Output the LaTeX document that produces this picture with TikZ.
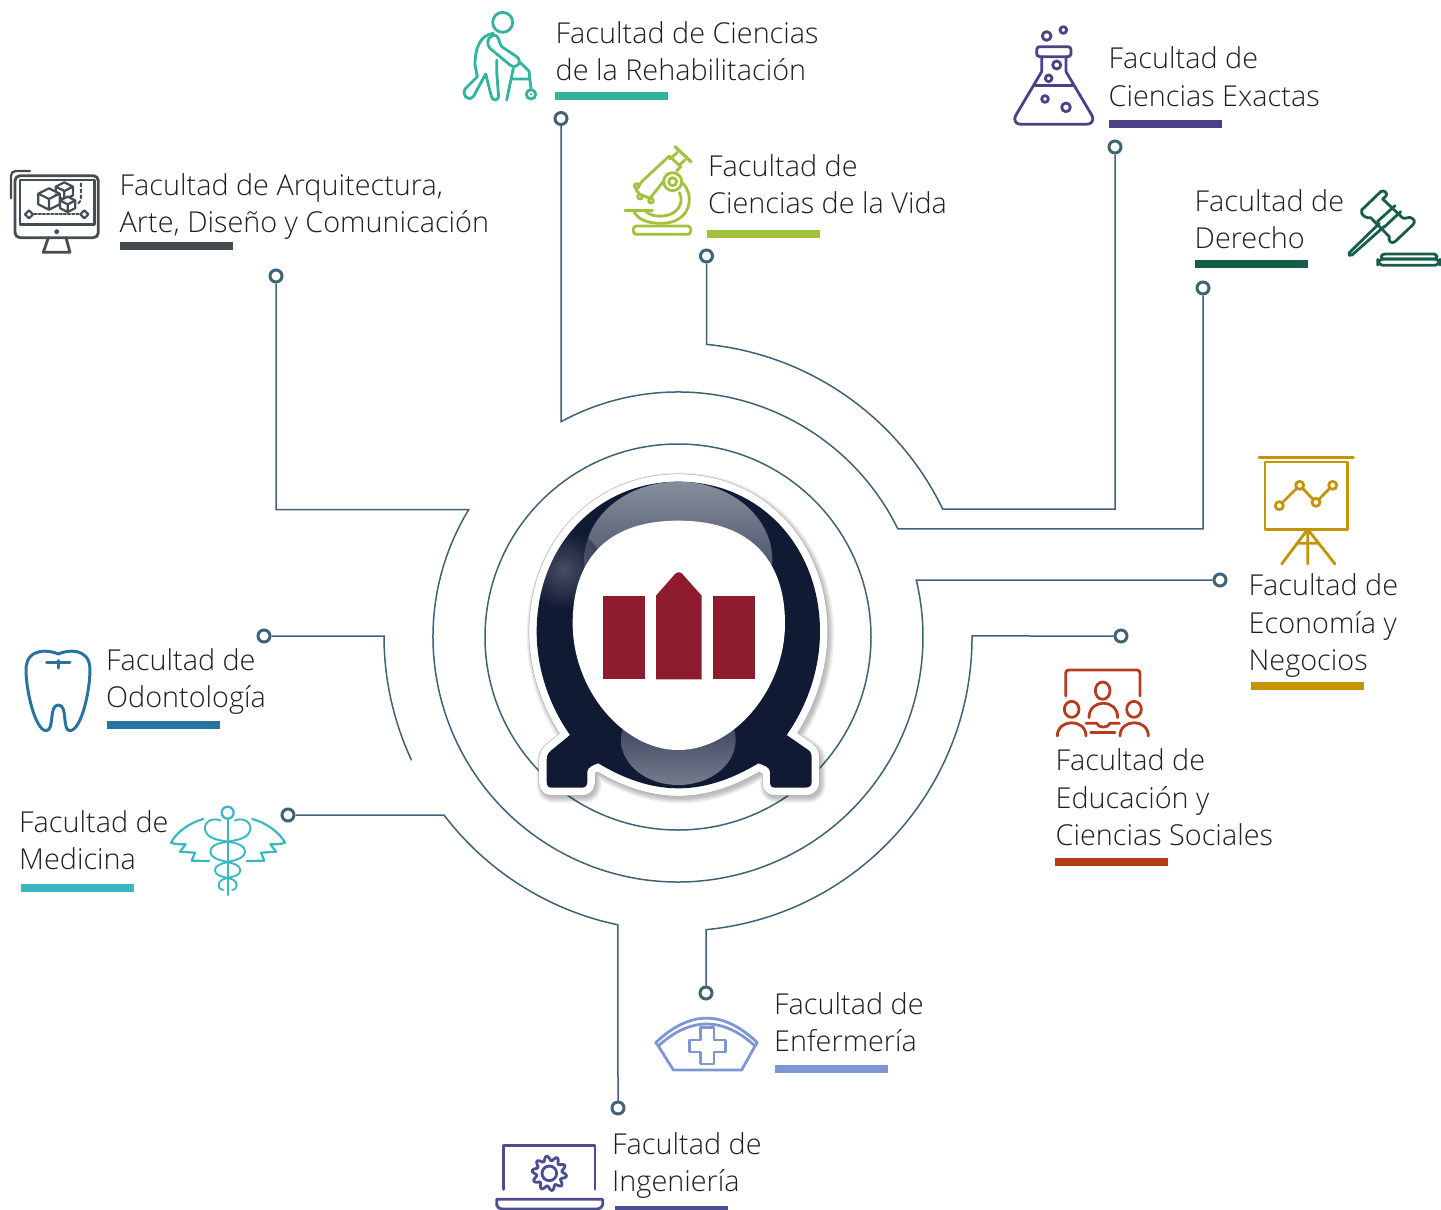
\documentclass[tikz,border=0pt]{standalone}
\usepackage{fontspec}
\setmainfont{Open Sans}[UprightFont=* Light]
\usetikzlibrary{calc}
\definecolor{linec}{HTML}{3F6274}
\definecolor{navy}{HTML}{111A33}
\definecolor{wine}{HTML}{8E1B2E}
\definecolor{creh}{HTML}{31B39C}
\definecolor{carq}{HTML}{454C52}
\definecolor{cvid}{HTML}{A2C13D}
\definecolor{cexa}{HTML}{4C4088}
\definecolor{cder}{HTML}{165D4A}
\definecolor{ceco}{HTML}{C59406}
\definecolor{cedu}{HTML}{B53C1D}
\definecolor{codo}{HTML}{27749F}
\definecolor{cmed}{HTML}{38B9C1}
\definecolor{cenf}{HTML}{7C97D2}
\definecolor{cing}{HTML}{4B4E8F}
\definecolor{hla}{HTML}{868D9C}
\definecolor{hlb}{HTML}{1E2A45}
\definecolor{hlc}{HTML}{767D8E}
\tikzset{
  conn/.style={draw=linec,line width=1.5pt,line join=miter},
  dotn/.style={circle,draw=linec,fill=white,line width=3pt,inner sep=0pt,minimum size=12pt},
  lab/.style={anchor=base west,align=left,inner sep=0pt,text=black!88,font=\fontsize{28.8}{37.5}\selectfont},
  ico/.style={line width=2.8pt,line cap=round,line join=round},
  zoomed/.style={x=0.33333pt,y=-0.33333pt}
}
\newcommand\cubeic[3]{%
  \draw[fill=white] ({#1-#3},{#2-#3*.5}) -- (#1,{#2-#3}) -- ({#1+#3},{#2-#3*.5}) -- ({#1+#3},{#2+#3*.5}) -- (#1,{#2+#3}) -- ({#1-#3},{#2+#3*.5}) -- cycle
    ({#1-#3},{#2-#3*.5}) -- (#1,#2) -- ({#1+#3},{#2-#3*.5}) (#1,#2) -- (#1,{#2+#3});}
\def\logopath{(535,95) .. controls (780,95) and (960,290) .. (960,545) .. controls (960,660) and (920,770) .. (860,855) -- (925,900) .. controls (935,908) and (935,915) .. (935,930) -- (935,995) .. controls (935,1008) and (928,1013) .. (915,1013) -- (825,1013) .. controls (815,1013) and (810,1008) .. (810,995) -- (810,965) .. controls (810,952) and (790,945) .. (775,940) .. controls (700,985) and (620,1015) .. (535,1015) .. controls (450,1015) and (370,985) .. (295,940) .. controls (280,945) and (262,952) .. (262,965) -- (262,995) .. controls (262,1008) and (255,1013) .. (245,1013) -- (155,1013) .. controls (145,1013) and (140,1008) .. (140,995) -- (140,930) .. controls (140,915) and (145,908) .. (155,900) -- (210,855) .. controls (150,770) and (110,660) .. (110,545) .. controls (110,290) and (290,95) .. (535,95) -- cycle}
\begin{document}
\begin{tikzpicture}[x=1pt,y=-1pt]
\useasboundingbox (0,0) rectangle (1441,1210);
\coordinate (c) at (678,637);
% dots
\node[dotn] (dreh) at (561,118.5) {};
\node[dotn] (darq) at (276,276) {};
\node[dotn] (dvid) at (706.5,256) {};
\node[dotn] (dexa) at (1115,147) {};
\node[dotn] (dder) at (1203,288) {};
\node[dotn] (deco) at (1220,580) {};
\node[dotn] (dedu) at (1121,636) {};
\node[dotn] (dodo) at (264,636) {};
\node[dotn] (dmed) at (288,815) {};
\node[dotn] (ding) at (618,1108) {};
\node[dotn] (denf) at (706,993) {};
% rings
\draw[conn] (c) circle[radius=193pt];
\coordinate (a1) at (561,421.7);
\coordinate (a2) at (468.8,509.5);
\coordinate (a3) at (706.5,344.4);
\coordinate (a4) at (384,636);
\coordinate (a5) at (444,815);
\coordinate (a6) at (706,929.66);
% connectors
\draw[conn] (dreh) -- (a1) arc[start angle=118.52,end angle=26.16,radius=245pt] -| (dder);
\draw[conn] (darq) |- (a2) arc[start angle=148.64,end angle=373.45,radius=245pt] -- (deco);
\draw[conn] (dvid) -- (a3) arc[start angle=84.44,end angle=25.81,radius=294pt] -| (dexa);
\draw[conn] (dodo) -- (a4) arc[start angle=180,end angle=205,radius=294pt];
\draw[conn] (dmed) -- (a5) arc[start angle=217.26,end angle=258.22,radius=294pt] -- (ding);
\draw[conn] (denf) -- (a6) arc[start angle=-84.54,end angle=0.2,radius=294pt] -- (dedu);
% labels
\node[lab] (lreh) at (555.5,80.5) {Facultad de Ciencias\\de la Rehabilitación};
\node[lab] (larq) at (119.5,232.5) {Facultad de Arquitectura,\\Arte, Diseño y Comunicación};
\node[lab] (lvid) at (708,213.5) {Facultad de\\Ciencias de la Vida};
\node[lab] (lexa) at (1108.5,106) {Facultad de\\Ciencias Exactas};
\node[lab] (lder) at (1194.5,248.5) {Facultad de\\Derecho};
\node[lab] (leco) at (1248.5,670.5) {Facultad de\\Economía y\\Negocios};
\node[lab] (ledu) at (1055.5,845.5) {Facultad de\\Educación y\\Ciencias Sociales};
\node[lab] (lodo) at (106,707.5) {Facultad de\\Odontología};
\node[lab] (lmed) at (19,869.5) {Facultad de\\Medicina};
\node[lab] (lenf) at (774,1051.5) {Facultad de\\Enfermería};
\node[lab] (ling) at (612,1191.5) {Facultad de\\Ingeniería};
% bars
\fill[creh] (555,92) rectangle (668,100);
\fill[carq] (120,242) rectangle (233,250);
\fill[cvid] (707,230) rectangle (820,238);
\fill[cexa] (1109,120) rectangle (1222,128);
\fill[cder] (1195,260) rectangle (1308,268);
\fill[ceco] (1251,682) rectangle (1364,690);
\fill[cedu] (1055,858) rectangle (1168,866);
\fill[codo] (107,721) rectangle (220,729);
\fill[cmed] (21,884) rectangle (134,892);
\fill[cenf] (775,1065) rectangle (888,1073);
\fill[cing] (615,1206) rectangle (728,1210);
% logo
\begin{scope}[shift={(500,450)},zoomed]
  \foreach \w in {24,21,18,15}{\draw[black,opacity=.07,line width=\w pt,line join=round,shift={(6,9)}] \logopath;}
  \draw[black!35,line width=16pt,line join=round] \logopath;
  \draw[white,line width=15pt,line join=round] \logopath;
  \fill[navy] \logopath;
  \begin{scope}
    \clip \logopath;
    \shade[top color=hla,bottom color=hlb] (535,330) ellipse[x radius=282,y radius=235];
    \shade[inner color=hla,outer color=navy,opacity=.45] (190,360) circle[radius=120];
    \shade[top color=hlb,bottom color=hlc] (535,870) ellipse[x radius=172,y radius=135];
  \end{scope}
  \fill[white] (535,212) .. controls (760,212) and (855,340) .. (855,520) .. controls (855,720) and (700,900) .. (535,900) .. controls (370,900) and (218,720) .. (218,520) .. controls (218,340) and (310,212) .. (535,212) -- cycle;
  \fill[wine] (308,437) rectangle (434,688);
  \fill[wine] (638,437) rectangle (764,688);
  \fill[wine] (468,688) -- (468,437) -- (525,372) .. controls (532,365) and (540,365) .. (547,372) -- (605,437) -- (605,688) -- cycle;
\end{scope}
% walker
\begin{scope}[shift={(455,5)},zoomed,ico,draw=creh]
  \draw (143,52) circle[radius=30];
  \draw (115,85) .. controls (75,90) and (60,130) .. (60,180) -- (67,215) -- (30,252) .. controls (20,265) and (35,292) .. (55,275) -- (92,207) -- (108,270) .. controls (112,292) and (135,290) .. (130,265) -- (125,200) -- (125,165);
  \draw (112,92) .. controls (95,100) and (95,118) .. (105,130) -- (165,180) .. controls (185,195) and (205,170) .. (185,155) -- (140,125) .. controls (130,115) and (135,85) .. (112,92) -- cycle;
  \draw (195,172) -- (222,198) -- (228,252) (175,190) -- (155,285) (168,222) -- (222,222);
  \draw (228,268) circle[radius=14];
  \fill[creh] (228,268) circle[radius=4];
\end{scope}
% microscope
\begin{scope}[shift={(620,140)},zoomed,ico,draw=cvid]
  \draw[rounded corners=3pt] (40,258) rectangle (212,283);
  \draw[line width=3pt] (15,212) -- (97,212);
  \draw (42,215) .. controls (55,240) and (85,250) .. (125,250) .. controls (180,250) and (210,215) .. (208,175) .. controls (206,150) and (195,135) .. (183,125);
  \draw (178,158) .. controls (195,190) and (170,225) .. (130,228) .. controls (105,230) and (90,225) .. (78,215);
  \draw (65,125) -- (148,48) -- (182,80) -- (170,92) (135,118) -- (102,160) -- cycle;
  \draw (172,37) -- (150,57) (195,60) -- (178,75);
  \draw[line width=3.2pt] (165,20) -- (213,65);
  \draw[fill=white] (158,125) circle[radius=27];
  \draw (158,125) circle[radius=12];
  \draw (50,138) circle[radius=7] (60,170) circle[radius=7] (93,182) circle[radius=7];
  \draw (65,125) -- (48,150) -- (60,163) (60,163) -- (90,175) -- (102,160);
\end{scope}
% monitor
\begin{scope}[shift={(5,165)},zoomed,ico,draw=carq]
  \draw[rounded corners=5pt] (30,32) rectangle (280,218);
  \draw (45,45) rectangle (268,178);
  \draw[line width=2.2pt] (18,100) -- (18,32) .. controls (18,24) and (24,18) .. (32,18) -- (75,18);
  \draw (130,218) -- (115,262) -- (195,262) -- (183,218);
  \draw[line width=2pt] (155,200) circle[radius=5];
  \draw[dotted,line width=2.2pt] (88,148) -- (222,148);
  \draw[dashed,line width=2pt] (228,55) -- (228,105) -- (216,120);
  \draw[line width=2.2pt] (60,148) -- (72,136) -- (84,148) -- (72,160) -- cycle;
  \draw[line width=2.2pt] (226,148) -- (238,136) -- (250,148) -- (238,160) -- cycle;
  \begin{scope}[line width=2.2pt]
    \cubeic{178}{78}{26}
    \cubeic{188}{118}{23}
    \cubeic{132}{102}{32}
  \end{scope}
\end{scope}
% flask
\begin{scope}[shift={(1000,10)},zoomed,ico,draw=cexa]
  \draw[rounded corners=3pt] (110,110) rectangle (213,140);
  \draw (125,140) -- (125,185) -- (48,315) .. controls (38,335) and (50,343) .. (65,343) -- (258,343) .. controls (272,343) and (285,335) .. (275,315) -- (198,185) -- (198,140);
  \draw (105,227) -- (218,227);
  \draw (140,78) circle[radius=13] (190,60) circle[radius=10] (170,165) circle[radius=12] (146,205) circle[radius=10] (135,267) circle[radius=10] (198,292) circle[radius=13];
\end{scope}
% gavel
\begin{scope}[shift={(1340,185)},zoomed,ico,draw=cder]
  \draw (65,75) -- (122,20) .. controls (130,12) and (145,25) .. (138,33) -- (128,42) -- (186,97) .. controls (195,105) and (200,95) .. (210,97) .. controls (225,102) and (226,112) .. (218,120) -- (165,170) .. controls (155,178) and (143,168) .. (148,155) -- (92,98) .. controls (82,100) and (70,95) .. (65,85) .. controls (63,80) and (63,78) .. (65,75) -- cycle;
  \draw (112,110) -- (165,62) (133,126) -- (182,80);
  \draw (118,115) -- (28,203) .. controls (24,210) and (30,214) .. (36,210) -- (133,124);
  \draw[rounded corners=3pt] (125,207) -- (290,207) -- (292,222) -- (122,222) -- cycle;
  \draw[rounded corners=6pt] (113,222) rectangle (300,241);
\end{scope}
% chart
\begin{scope}[shift={(1040,450)},zoomed,ico,draw=ceco]
  \draw (657,22) -- (940,22);
  \draw (675,36) rectangle (922,238);
  \draw (718,167) -- (779,106) -- (828,157) -- (878,106);
  \draw[fill=white] (718,167) circle[radius=12] (779,106) circle[radius=12] (828,157) circle[radius=12] (878,106) circle[radius=12];
  \draw (725,342) -- (803,238) -- (885,342) (803,238) -- (803,342) (770,280) -- (838,280);
\end{scope}
% education
\begin{scope}[shift={(1040,450)},zoomed,ico,draw=cedu]
  \draw[rounded corners=3pt] (77,738) -- (77,660) -- (300,660) -- (300,738);
  \draw (188,722) ellipse[x radius=22,y radius=26] (95,778) ellipse[x radius=22,y radius=24] (282,778) ellipse[x radius=22,y radius=24];
  \draw (147,803) .. controls (147,745) and (233,745) .. (233,803);
  \draw (52,858) .. controls (52,805) and (138,805) .. (138,858);
  \draw (240,858) .. controls (240,805) and (325,805) .. (325,858);
  \draw (138,820) -- (170,820) .. controls (175,835) and (205,835) .. (210,820) -- (238,820);
  \draw (152,848) -- (225,848);
\end{scope}
% tooth
\begin{scope}[shift={(10,640)},zoomed,ico,draw=codo,line width=3pt]
  \draw (145,42) .. controls (170,30) and (240,20) .. (240,90) .. controls (240,150) and (215,270) .. (180,272) .. controls (155,272) and (175,195) .. (145,195) .. controls (115,195) and (135,272) .. (108,272) .. controls (75,270) and (48,150) .. (48,90) .. controls (48,20) and (120,30) .. (145,42) -- cycle;
  \draw (110,68) -- (180,68) (145,62) -- (145,84);
\end{scope}
% caduceus
\begin{scope}[shift={(165,800)},zoomed,ico,draw=cmed,line width=2.2pt]
  \draw (188,56) -- (188,285);
  \draw (188,38) circle[radius=18];
  \draw (115,57) .. controls (75,68) and (35,95) .. (18,128) .. controls (30,133) and (45,133) .. (62,133) -- (45,155) -- (90,158) -- (80,182) -- (133,183);
  \draw (262,57) .. controls (302,68) and (342,95) .. (360,128) .. controls (348,133) and (333,133) .. (316,133) -- (333,155) -- (288,158) -- (298,182) -- (245,183);
  \begin{scope}[line width=1.9pt,double=white,double distance=3.4pt,line cap=butt]
    \draw (208,62) .. controls (246,45) and (276,85) .. (241,110) .. controls (211,130) and (136,120) .. (136,155) .. controls (136,190) and (226,180) .. (226,210) .. controls (226,240) and (161,225) .. (161,255) .. controls (161,268) and (171,270) .. (176,270);
    \draw (168,62) .. controls (130,45) and (100,85) .. (135,110) .. controls (165,130) and (240,120) .. (240,155) .. controls (240,190) and (150,180) .. (150,210) .. controls (150,240) and (215,225) .. (215,255) .. controls (215,268) and (205,270) .. (200,270);
  \end{scope}
\end{scope}
% nurse cap
\begin{scope}[shift={(490,1010)},zoomed,ico,draw=cenf]
  \draw (497,98) .. controls (600,0) and (700,0) .. (802,98) -- (795,108) .. controls (700,20) and (600,20) .. (505,108) -- cycle;
  \draw (505,108) -- (550,180) -- (755,180) -- (795,108);
  \draw (632,52) -- (672,52) -- (672,90) -- (707,90) -- (707,126) -- (672,126) -- (672,162) -- (632,162) -- (632,126) -- (598,126) -- (598,90) -- (632,90) -- cycle;
\end{scope}
% laptop
\begin{scope}[shift={(490,1010)},zoomed,ico,draw=cing]
  \draw (40,538) -- (40,407) -- (315,407) -- (315,538);
  \draw (20,568) -- (338,568) -- (338,585) .. controls (335,592) and (330,597) .. (322,597) -- (36,597) .. controls (28,597) and (22,592) .. (20,585) -- cycle;
  \draw plot[domain=0:360,samples=121] ({178+(45+7*sin(10*\x))*cos(\x)},{490+(45+7*sin(10*\x))*sin(\x)});
  \draw (178,490) circle[radius=22];
\end{scope}
\end{tikzpicture}
\end{document}
